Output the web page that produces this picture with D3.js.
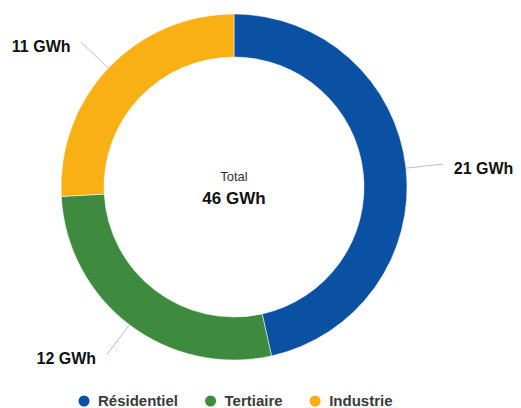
<!DOCTYPE html>
<html lang="fr">
<head>
<meta charset="UTF-8">
<title>Consommation</title>
<style>
  body { margin: 0; padding: 0; background: #fff; }
  svg { display: block; font-family: "Liberation Sans", Arial, sans-serif; }
</style>
</head>
<body>
<div id="chart"></div>
<script src="https://d3js.org/d3.v7.min.js"></script>
<script>
const categories = ['Résidentiel', 'Tertiaire', 'Industrie'];
const values = [21.4, 12.7, 11.9];
const colors = ['#0b51a3', '#3e8b40', '#f8b015'];
const totalLabel = 'Total';
const unit = 'GWh';

const width = 521, height = 408;
const cx = 234, cy = 187;
const outerR = 173, innerR = 130;

const svg = d3.select('#chart')
  .append('svg')
  .attr('width', width)
  .attr('height', height);

const data = categories.map((c, i) => ({ name: c, value: values[i], color: colors[i] }));

const pie = d3.pie().value(d => d.value).sort(null);
const arc = d3.arc().innerRadius(innerR).outerRadius(outerR);
const arcs = pie(data);

const g = svg.append('g').attr('transform', `translate(${cx}, ${cy})`);

g.selectAll('path.slice')
  .data(arcs)
  .enter().append('path')
  .attr('class', 'slice')
  .attr('d', arc)
  .attr('fill', d => d.data.color)
  .attr('stroke', '#fff')
  .attr('stroke-width', 0.5);

// leader lines + labels
const lineStart = d3.arc().innerRadius(outerR).outerRadius(outerR);
const lineEnd = d3.arc().innerRadius(outerR + 37).outerRadius(outerR + 37);

g.selectAll('line.leader')
  .data(arcs)
  .enter().append('line')
  .attr('class', 'leader')
  .attr('x1', d => lineStart.centroid(d)[0])
  .attr('y1', d => lineStart.centroid(d)[1])
  .attr('x2', d => lineEnd.centroid(d)[0])
  .attr('y2', d => lineEnd.centroid(d)[1])
  .attr('stroke', '#bdbdbd')
  .attr('stroke-width', 1);

g.selectAll('text.lbl')
  .data(arcs)
  .enter().append('text')
  .attr('class', 'lbl')
  .attr('x', d => {
    const p = lineEnd.centroid(d);
    return p[0] > 0 ? p[0] + 11 : p[0] - 11;
  })
  .attr('y', d => lineEnd.centroid(d)[1] + 4)
  .attr('dy', '0.35em')
  .attr('text-anchor', d => lineEnd.centroid(d)[0] > 0 ? 'start' : 'end')
  .attr('font-size', 16)
  .attr('font-weight', 'bold')
  .attr('fill', '#111')
  .text(d => `${Math.floor(d.data.value)} ${unit}`);

// centre text
g.append('text')
  .attr('y', -6)
  .attr('text-anchor', 'middle')
  .attr('font-size', 13)
  .attr('fill', '#333')
  .text(totalLabel);

g.append('text')
  .attr('y', 17)
  .attr('text-anchor', 'middle')
  .attr('font-size', 17)
  .attr('font-weight', 'bold')
  .attr('fill', '#111')
  .text(`${Math.round(d3.sum(values))} ${unit}`);

// legend
const legend = svg.append('g').attr('class', 'legend');
const items = legend.selectAll('g.item')
  .data(data)
  .enter().append('g')
  .attr('class', 'item');

items.append('circle')
  .attr('cx', 0)
  .attr('cy', 0)
  .attr('r', 5.5)
  .attr('fill', d => d.color);

items.append('text')
  .attr('x', 14)
  .attr('y', 0)
  .attr('dy', '0.35em')
  .attr('font-size', 15)
  .attr('font-weight', 'bold')
  .attr('fill', '#3a3a3a')
  .text(d => d.name);

let x = 0;
const gap = 27;
items.each(function () {
  const w = 19.5 + this.querySelector('text').getComputedTextLength();
  d3.select(this).attr('transform', `translate(${x + 5.5}, 0)`);
  x += w + gap;
});
const legendWidth = x - gap;
legend.attr('transform', `translate(${cx + 1.5 - legendWidth / 2}, 401)`);
</script>
</body>
</html>
